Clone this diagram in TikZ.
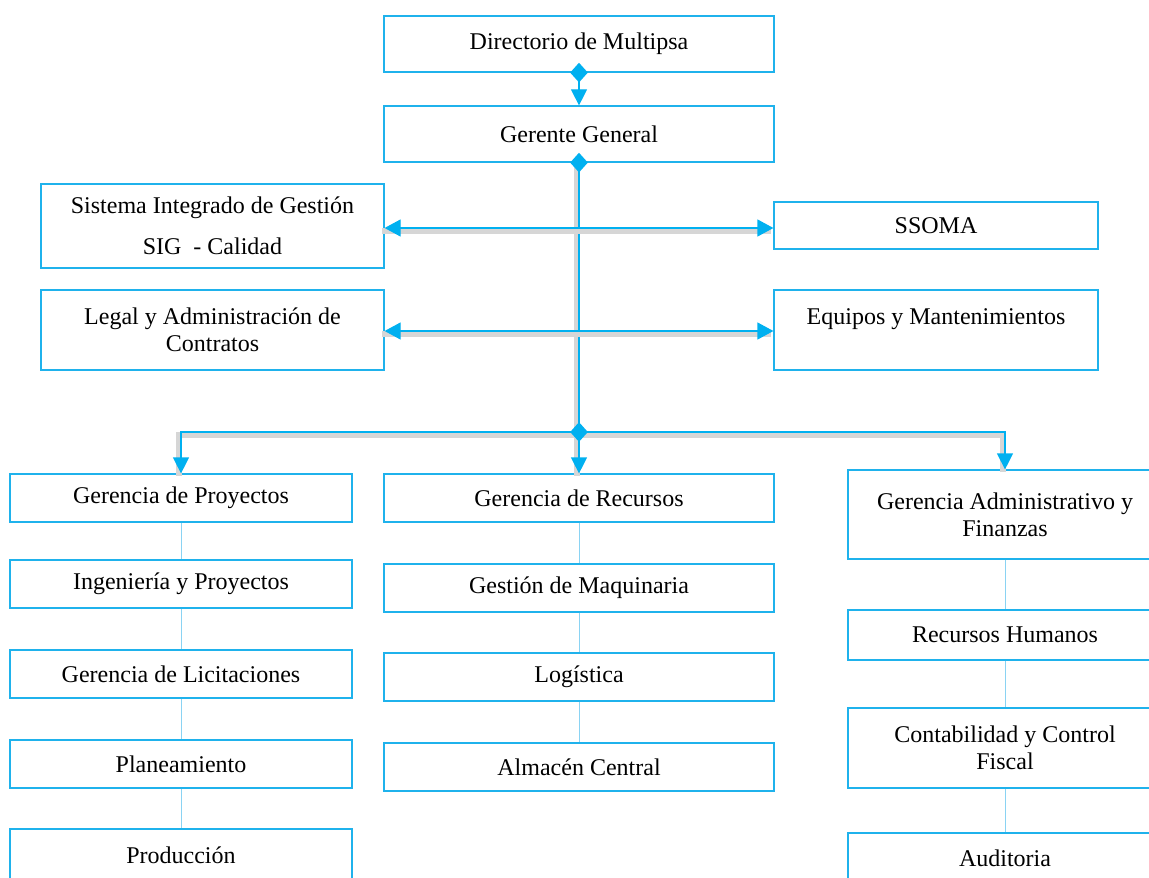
\documentclass[tikz,border=0pt]{standalone}
\usepackage{fontspec}
\setmainfont{Liberation Serif}
\usetikzlibrary{arrows.meta,shapes.geometric,positioning}
\definecolor{celeste}{HTML}{00B0F0}
\definecolor{borde}{HTML}{1FB2EC}
\definecolor{tenue}{HTML}{8AD3F3}

\begin{document}
\begin{tikzpicture}[x=0.5pt,y=-0.5pt,
    caja/.style={draw=borde, line width=0.6pt, fill=white, inner sep=0pt, align=center,
      font=\fontsize{12}{13.5}\selectfont},
    rombo/.style={diamond, fill=celeste, inner sep=0pt, minimum width=9pt, minimum height=10pt},
    linea/.style={draw=celeste, line width=0.6pt},
    flecha/.style={linea, -{Triangle[width=8pt,length=8pt]}},
    doble/.style={linea, {Triangle[width=8.5pt,length=8pt]}-{Triangle[width=8.5pt,length=8pt]}},
    fina/.style={draw=tenue, line width=0.5pt},
    sombra/.style={preaction={draw=black!16, line width=3pt, arrows=-,
      transform canvas={shift={(-1.2pt,-1.5pt)}}}}]
  \clip (0,0) rectangle (1149,877);
  % direccion
  \node[caja, minimum width=195pt, minimum height=28pt] (dir) at (579,44) {Directorio de Multipsa};
  \node[caja, minimum width=195pt, minimum height=28pt] (gg) at (579,134) {Gerente General};
  % staff
  \node[caja, minimum width=171.5pt, minimum height=42pt] (sig) at (212.5,226)
    {Sistema Integrado de Gestión\\[7pt]SIG~~- Calidad};
  \node[caja, minimum width=162pt, minimum height=23.5pt] (ssoma) at (936,225.5) {SSOMA};
  \node[caja, minimum width=171.5pt, minimum height=40pt] (legal) at (212.5,330)
    {Legal y Administración de\\Contratos};
  \node[caja, minimum width=162pt, minimum height=40pt] (equipos) at (936,330)
    {Equipos y Mantenimientos\\~};
  % proyectos
  \node[caja, minimum width=171pt, minimum height=24pt] (gp) at (181,498) {Gerencia de Proyectos};
  \node[caja, minimum width=171pt, minimum height=24pt] (ip) at (181,584) {Ingeniería y Proyectos};
  \node[caja, minimum width=171pt, minimum height=24pt] (gl) at (181,674) {Gerencia de Licitaciones};
  \node[caja, minimum width=171pt, minimum height=24pt] (plan) at (181,764) {Planeamiento};
  \node[caja, minimum width=171pt, minimum height=26pt] (prod) at (181,855) {Producción};
  % recursos
  \node[caja, minimum width=195pt, minimum height=24pt] (gr) at (579,498) {Gerencia de Recursos};
  \node[caja, minimum width=195pt, minimum height=24pt] (gm) at (579,588) {Gestión de Maquinaria};
  \node[caja, minimum width=195pt, minimum height=24pt] (log) at (579,677) {Logística};
  \node[caja, minimum width=195pt, minimum height=24pt] (alm) at (579,767) {Almacén Central};
  % administracion
  \node[caja, minimum width=157pt, minimum height=44.5pt] (gaf) at (1005,514.5)
    {Gerencia Administrativo y\\Finanzas};
  \node[caja, minimum width=157pt, minimum height=25pt] (rh) at (1005,635) {Recursos Humanos};
  \node[caja, minimum width=157pt, minimum height=40pt] (cont) at (1005,748)
    {Contabilidad y Control\\Fiscal};
  \node[caja, minimum width=157pt, minimum height=25pt] (aud) at (1005,858) {Auditoria};
  \coordinate (bus) at (579,432);
  % conectores
  \draw[flecha] (dir.south) -- (gg.north);
  \draw[linea, sombra] (gg.south) -- (bus);
  \draw[doble, sombra] (sig.east |- 0,228) -- (ssoma.west |- 0,228);
  \draw[doble, sombra] (legal.east |- 0,331) -- (equipos.west |- 0,331);
  \draw[flecha, sombra] (bus) -| (gp.north);
  \draw[flecha, sombra] (bus) -- (gr.north);
  \draw[flecha, sombra] (bus) -| (gaf.north);
  \foreach \a/\b in {gp/ip, ip/gl, gl/plan, plan/prod, gr/gm, gm/log, log/alm, gaf/rh, rh/cont, cont/aud}
    \draw[fina] (\a) -- (\b);
  \node[rombo] (r1) at (dir.south) {};
  \node[rombo] (r2) at (gg.south) {};
  \node[rombo] (r3) at (bus) {};
\end{tikzpicture}
\end{document}
